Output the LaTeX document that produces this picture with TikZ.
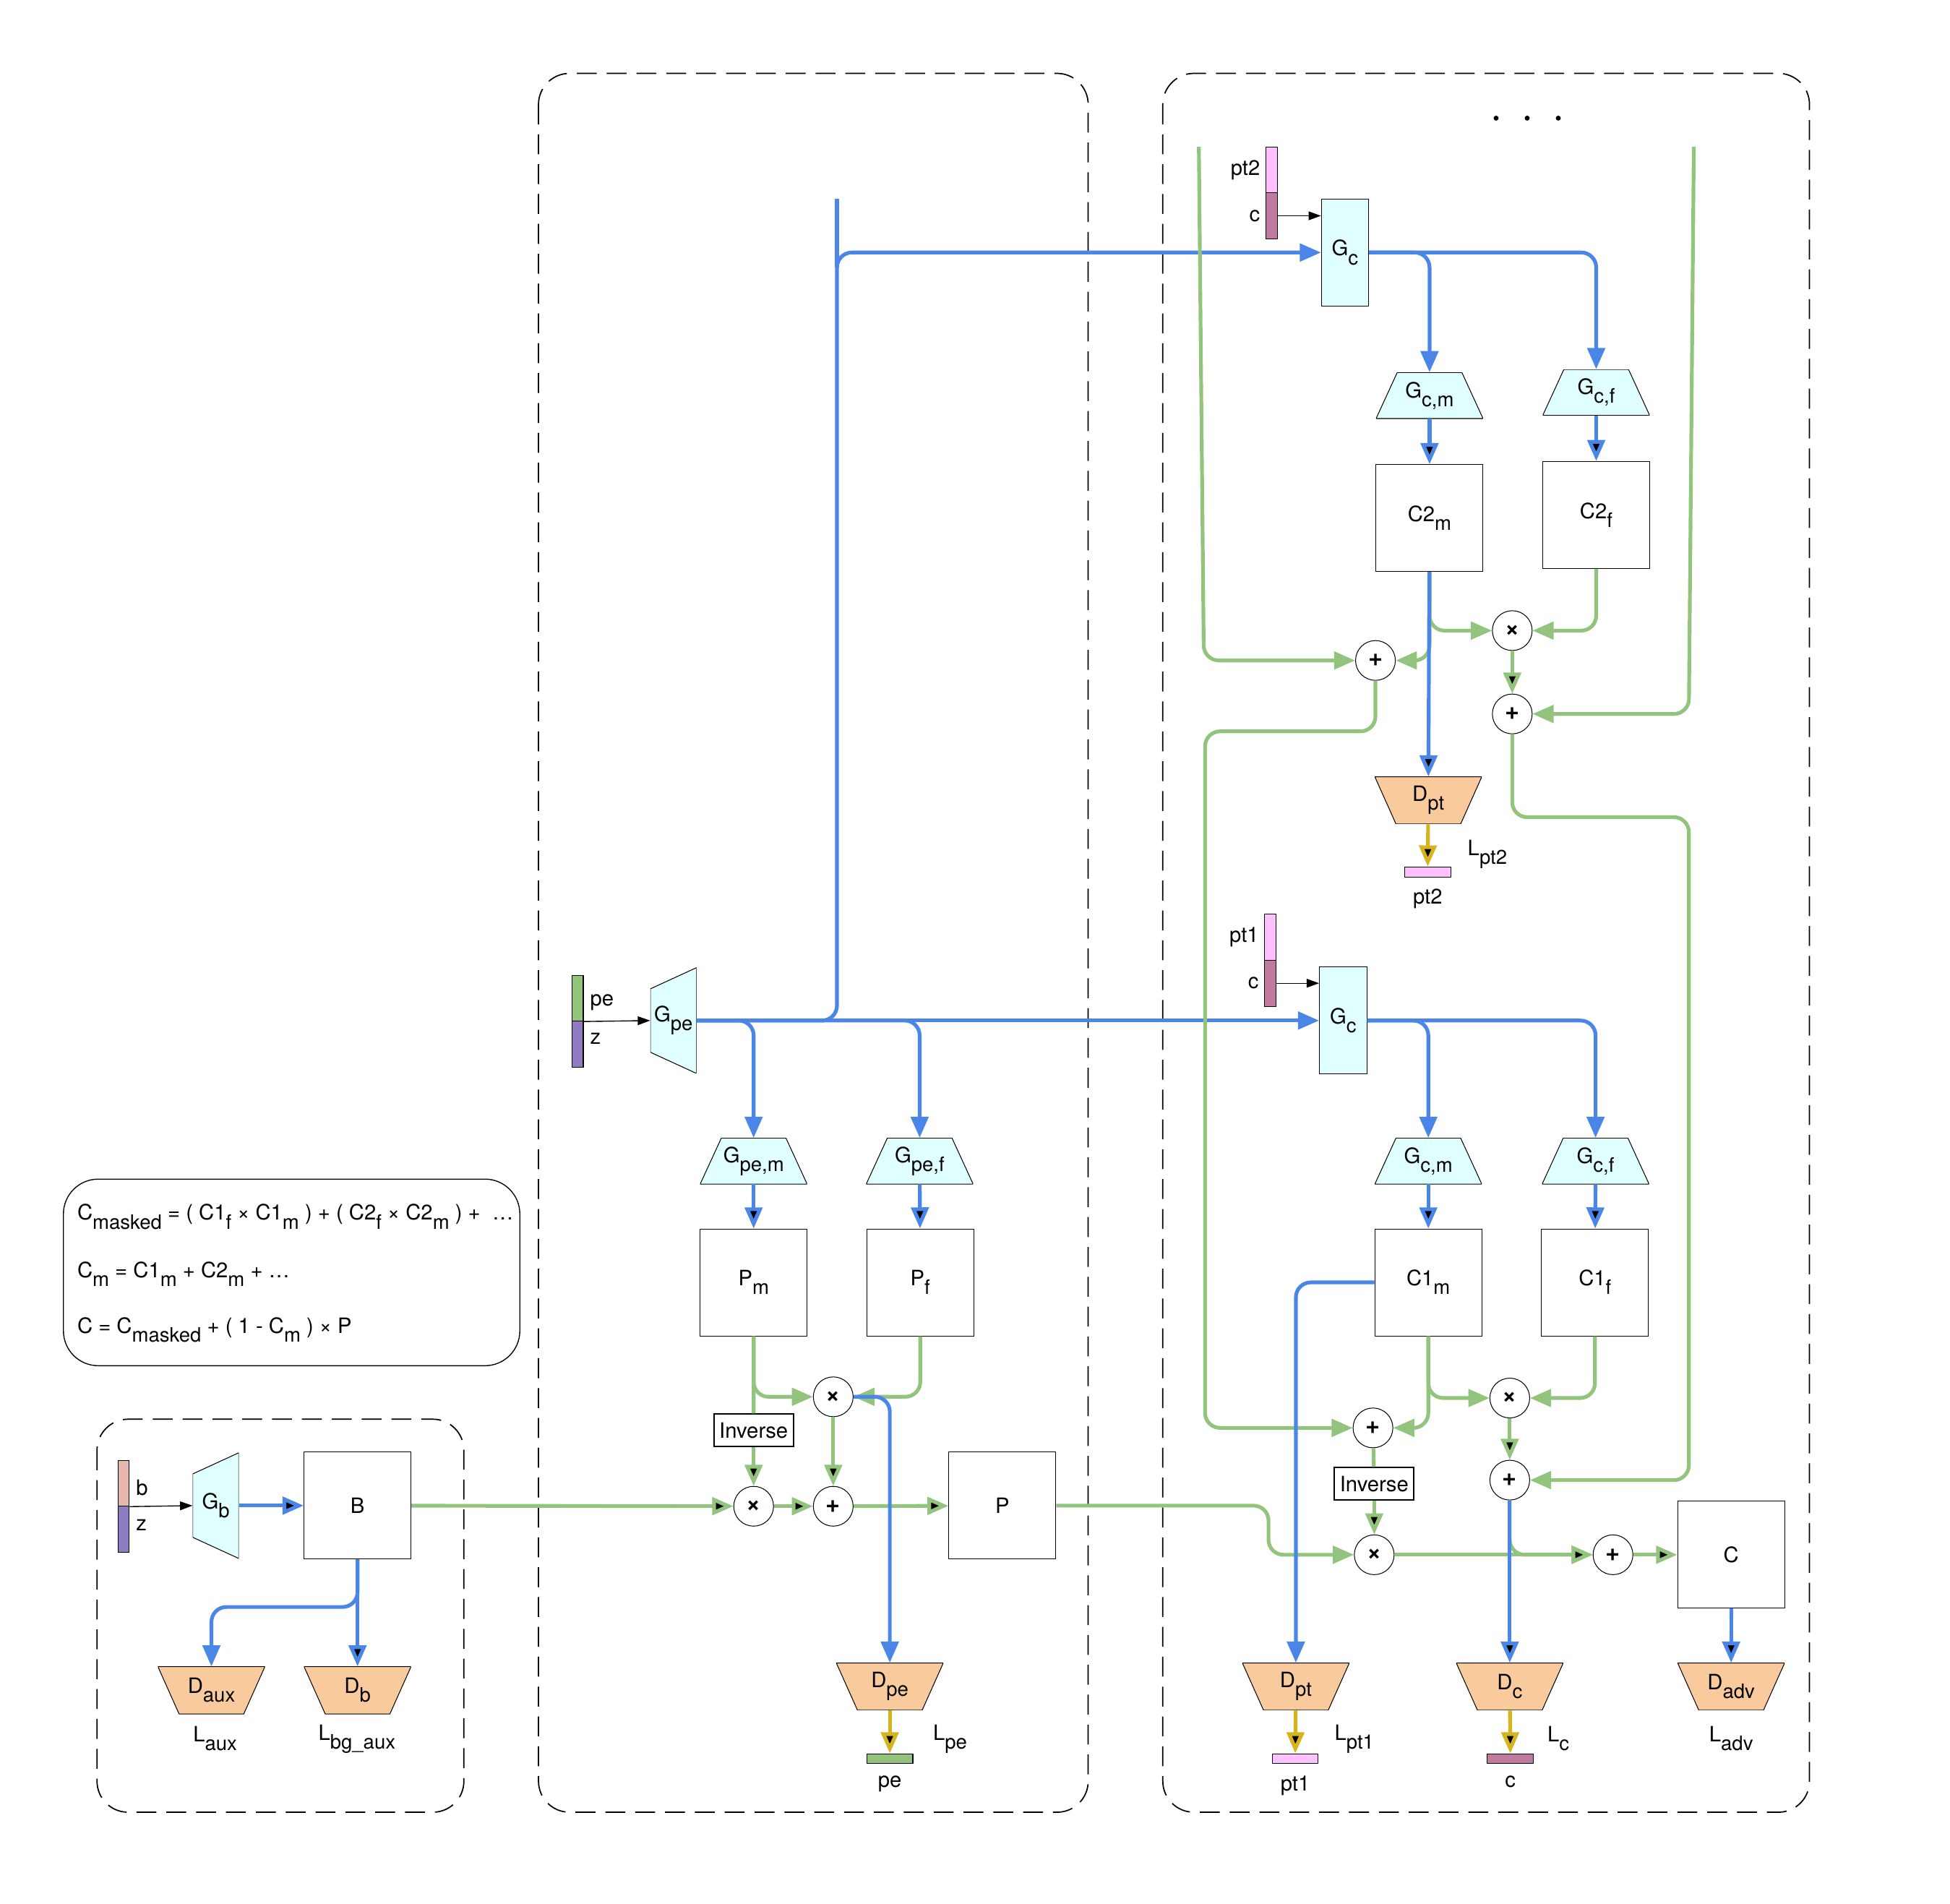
\documentclass[tikz,border=0pt]{standalone}
\usepackage{fontspec}
\setmainfont{TeX Gyre Heros}
\usetikzlibrary{arrows.meta}
\usetikzlibrary{positioning}

\definecolor{flowblue}{HTML}{4A86E8}
\definecolor{flowgreen}{HTML}{93C47D}
\definecolor{lossyellow}{HTML}{D6B41F}
\definecolor{discorange}{HTML}{F9CB9C}
\definecolor{gencyan}{HTML}{E0FFFF}
\definecolor{ptpink}{HTML}{FFC0FF}
\definecolor{cmauve}{HTML}{C27BA0}
\definecolor{bpink}{HTML}{E6B8AF}
\definecolor{zpurple}{HTML}{8E7CC3}

\newcommand{\lsub}[1]{\raisebox{-7pt}{\fontsize{16}{16}\selectfont #1}}

\begin{document}
\begin{tikzpicture}[x=1pt, y=-1pt, font=\fontsize{17}{19}\selectfont,
        sq/.style={draw, line width=0.6pt, minimum width=86pt, minimum height=86pt, inner sep=0pt},
        gbox/.style={draw, fill=gencyan, line width=0.6pt, minimum width=38pt, minimum height=86pt, inner sep=0pt},
        vec/.style={draw, line width=0.6pt, minimum width=9pt, minimum height=37pt, inner sep=0pt},
        bar/.style={draw, line width=0.6pt, minimum width=37pt, minimum height=8pt, inner sep=0pt},
        op/.style={circle, draw, line width=0.6pt, minimum size=32pt, inner sep=0pt, font=\fontsize{20}{20}\selectfont\bfseries},
        inv/.style={draw, line width=1.1pt, minimum width=64pt, minimum height=26pt, inner sep=0pt},
        gen/.style={minimum width=86pt, minimum height=37pt, inner sep=0pt, path picture={
                \filldraw[fill=gencyan, line width=0.6pt] ([xshift=17pt]path picture bounding box.north west)
                -- ([xshift=-17pt]path picture bounding box.north east) -- (path picture bounding box.south east)
                -- (path picture bounding box.south west) -- cycle;}},
        gside/.style={minimum width=37pt, minimum height=85pt, inner sep=0pt, path picture={
                \filldraw[fill=gencyan, line width=0.6pt] ([yshift=-17pt]path picture bounding box.north west)
                -- (path picture bounding box.north east) -- (path picture bounding box.south east)
                -- ([yshift=17pt]path picture bounding box.south west) -- cycle;}},
        disc/.style={minimum width=86pt, minimum height=38pt, inner sep=0pt, path picture={
                \filldraw[fill=discorange, line width=0.6pt] (path picture bounding box.north west)
                -- (path picture bounding box.north east) -- ([xshift=-17pt]path picture bounding box.south east)
                -- ([xshift=17pt]path picture bounding box.south west) -- cycle;}},
        frame/.style={line width=1pt, dash pattern=on 16pt off 8pt, rounded corners=25pt},
        rc/.style={rounded corners=12pt},
        tip/.style={-{Triangle[length=17pt,width=14pt]}},
        bline/.style={draw=flowblue, line width=3pt},
        bflow/.style={bline, tip},
        gline/.style={draw=flowgreen, line width=3pt},
        gflow/.style={gline, tip},
        yflow/.style={draw=lossyellow, line width=3pt, tip},
        tarr/.style={draw, line width=0.8pt, -{Triangle[length=10pt,width=7pt]}}]
        \useasboundingbox (0,0) rectangle (1568,1530.8);

        % frames
        \draw[frame] (78,1141) rectangle (373,1457);
        \draw[frame] (433,59) rectangle (875,1457);
        \draw[frame] (935,59) rectangle (1455,1457);
        \draw[line width=0.8pt, rounded corners=28pt] (51,948) rectangle (418,1098);

        % formulas
        \node[anchor=base west, inner sep=0pt] (f1) at (62,981) {C\lsub{masked} = ( C1\lsub{f} × C1\lsub{m} ) + ( C2\lsub{f} × C2\lsub{m} ) + \ …};
        \node[anchor=base west, inner sep=0pt] (f2) at (62,1027) {C\lsub{m} = C1\lsub{m} + C2\lsub{m} + …};
        \node[anchor=base west, inner sep=0pt] (f3) at (62,1072) {C = C\lsub{masked} + ( 1 - C\lsub{m} ) × P};

        % background stage
        \node[vec, fill=bpink] (vb) at (99.5,1192.5) {};
        \node[vec, fill=zpurple] (vz) at (99.5,1229.5) {};
        \node[anchor=west] (lb) at (106,1196) {b};
        \node[anchor=west] (lz) at (106,1226) {z};
        \node[gside] (Gb) at (173.5,1210.5) {G\lsub{b}};
        \node[sq] (B) at (287.5,1210.5) {B};
        \node[disc] (Daux) at (170,1359) {D\lsub{aux}};
        \node[disc] (Db) at (287.5,1359) {D\lsub{b}};
        \node (Laux) at (173,1398) {L\lsub{aux}};
        \node (Lbg) at (287,1398) {L\lsub{bg\_aux}};

        % parent stage
        \node[vec, fill=flowgreen] (vpe) at (464.5,802.5) {};
        \node[vec, fill=zpurple] (vz2) at (464.5,839.5) {};
        \node[anchor=west] (lpe) at (471,806) {pe};
        \node[anchor=west] (lz2) at (471,835) {z};
        \node[gside] (Gpe) at (541.5,820.5) {G\lsub{pe}};
        \node[gen] (Gpem) at (606,933.5) {G\lsub{pe,m}};
        \node[gen] (Gpef) at (739.5,933.5) {G\lsub{pe,f}};
        \node[sq] (Pm) at (606,1031) {P\lsub{m}};
        \node[sq] (Pf) at (740,1031) {P\lsub{f}};
        \node[op] (mulA) at (670,1123) {×};
        \node[inv] (inv1) at (606,1150) {Inverse};
        \node[op] (mulB) at (606,1211) {×};
        \node[op] (addA) at (670,1211) {+};
        \node[sq] (P) at (806,1210.5) {P};
        \node[disc] (Dpe) at (715.5,1356) {D\lsub{pe}};
        \node[bar, fill=flowgreen] (pebar) at (715.5,1414) {};
        \node[below=6pt of pebar] (lpebar) {pe};
        \node (Lpe) at (764,1398) {L\lsub{pe}};

        % child stage 1
        \node[vec, fill=ptpink] (vpt1) at (1021.5,753.5) {};
        \node[vec, fill=cmauve] (vc1) at (1021.5,790.5) {};
        \node[left=1pt of vpt1] (lpt1) {pt1};
        \node[left=1pt of vc1] (lc1) {c};
        \node[gbox] (Gc1) at (1080,820.5) {G\lsub{c}};
        \node[gen] (Gcm1) at (1148.5,933.5) {G\lsub{c,m}};
        \node[gen] (Gcf1) at (1283,933.5) {G\lsub{c,f}};
        \node[sq] (C1m) at (1148.5,1031) {C1\lsub{m}};
        \node[sq] (C1f) at (1282.5,1031) {C1\lsub{f}};
        \node[op] (mulC) at (1214,1124) {×};
        \node[op] (addC) at (1104,1148) {+};
        \node[inv] (inv2) at (1105,1193) {Inverse};
        \node[op] (addD) at (1214,1190) {+};
        \node[op] (mulD) at (1105,1250) {×};
        \node[op] (addE) at (1297,1250) {+};
        \node[sq] (C) at (1392,1250) {C};
        \node[disc] (Dpt1) at (1042,1356) {D\lsub{pt}};
        \node[disc] (Dc) at (1214,1356) {D\lsub{c}};
        \node[disc] (Dadv) at (1392,1356) {D\lsub{adv}};
        \node[bar, fill=ptpink] (pt1bar) at (1041.5,1414) {};
        \node[bar, fill=cmauve] (cbar) at (1214.5,1414) {};
        \node[below=6pt of pt1bar] (lpt1bar) {pt1};
        \node[below=6pt of cbar] (lcbar) {c};
        \node (Lpt1) at (1089,1398) {L\lsub{pt1}};
        \node (Lc) at (1253,1398) {L\lsub{c}};
        \node (Ladv) at (1392,1398) {L\lsub{adv}};

        % child stage 2
        \foreach \x in {1203,1228,1253} \fill (\x,95) circle (2pt);
        \node[vec, fill=ptpink] (vpt2) at (1022.5,136.5) {};
        \node[vec, fill=cmauve] (vc2) at (1022.5,173.5) {};
        \node[left=1pt of vpt2] (lpt2) {pt2};
        \node[left=1pt of vc2] (lc2) {c};
        \node[gbox] (Gc2) at (1081.5,203) {G\lsub{c}};
        \node[gen] (Gcm2) at (1149.5,318) {G\lsub{c,m}};
        \node[gen] (Gcf2) at (1283.5,315.5) {G\lsub{c,f}};
        \node[sq] (C2m) at (1149.5,416.5) {C2\lsub{m}};
        \node[sq] (C2f) at (1283.5,414) {C2\lsub{f}};
        \node[op] (mulE) at (1216,507) {×};
        \node[op] (addF) at (1106,531) {+};
        \node[op] (addG) at (1216,574) {+};
        \node[disc] (Dpt2) at (1148.5,643.5) {D\lsub{pt}};
        \node[bar, fill=ptpink] (pt2bar) at (1148,701) {};
        \node[below=6pt of pt2bar] (lpt2bar) {pt2};
        \node (Lpt2) at (1196,687) {L\lsub{pt2}};

        \coordinate (btop) at (673,160);
        \coordinate (gtopL) at (964,118);
        \coordinate (gtopR) at (1362,118);

        % feature paths
        \draw[bline] (btop) -- (673,215);
        \draw[bflow] (Gpe) [rc] -- (673,820.5) -- (673,203) -- (Gc2) [sharp corners];
        \draw[bflow] (Gpe) -- (Gc1);

        % masks and images
        \draw[gflow] (gtopL) [rc] -- (968,531) -- (addF) [sharp corners];
        \draw[gflow] (gtopR) [rc] -- (1358,574) -- (addG) [sharp corners];
        \draw[gflow] (addF) [rc] -- (1106,588) -- (969,588) -- (969,1148) -- (addC) [sharp corners];
        \draw[gflow] (addG) [rc] -- (1216,657) -- (1358,657) -- (1358,1190) -- (addD) [sharp corners];
        \draw[gflow] (C2m) [rc] -- (1149.5,507) -- (mulE) [sharp corners];
        \draw[gflow] (C2m) [rc] -- (1149.5,531) -- (addF) [sharp corners];
        \draw[gflow] (C2f) [rc] -- (1283.5,507) -- (mulE) [sharp corners];
        \draw[gflow] (C1m) [rc] -- (1148.5,1124) -- (mulC) [sharp corners];
        \draw[gflow] (C1m) [rc] -- (1148.5,1148) -- (addC) [sharp corners];
        \draw[gflow] (C1f) [rc] -- (1282.5,1124) -- (mulC) [sharp corners];
        \draw[gflow] (P) [rc] -- (1020,1210.5) -- (1020,1250) -- (mulD) [sharp corners];
        \draw[gflow] (addD) [rc] -- (1214,1250) -- (addE) [sharp corners];
        \draw[gflow] (Pm) [rc] -- (606,1123) -- (mulA) [sharp corners];
        \draw[gflow] (Pf) [rc] -- (740,1123) -- (mulA) [sharp corners];
        \draw[gline] (Pm) -- (inv1) (addC) -- (inv2);
        \draw[gflow]
        (mulE) edge (addG)
        (mulC) edge (addD)
        (inv2) edge (mulD)
        (mulD) edge (addE)
        (addE) edge (C)
        (B) edge (mulB)
        (inv1) edge (mulB)
        (mulA) edge (addA)
        (mulB) edge (addA)
        (addA) edge (P);

        % generators and discriminators
        \draw[bflow] (Gpe) [rc] -- (606,820.5) -- (Gpem) [sharp corners];
        \draw[bflow] (Gpe) [rc] -- (739.5,820.5) -- (Gpef) [sharp corners];
        \draw[bflow] (Gc2) [rc] -- (1149.5,203) -- (Gcm2) [sharp corners];
        \draw[bflow] (Gc2) [rc] -- (1283.5,203) -- (Gcf2) [sharp corners];
        \draw[bflow] (Gc1) [rc] -- (1148.5,820.5) -- (Gcm1) [sharp corners];
        \draw[bflow] (Gc1) [rc] -- (1283,820.5) -- (Gcf1) [sharp corners];
        \draw[bflow] (mulA) [rc] -- (715.5,1123) -- (Dpe) [sharp corners];
        \draw[bflow] (C1m) [rc] -- (1042,1031) -- (Dpt1) [sharp corners];
        \draw[bflow] (B) [rc] -- (287.5,1292) -- (170,1292) -- (Daux) [sharp corners];
        \draw[bflow]
        (Gpem) edge (Pm)
        (Gpef) edge (Pf)
        (Gcm2) edge (C2m)
        (Gcf2) edge (C2f)
        (Gcm1) edge (C1m)
        (Gcf1) edge (C1f)
        (C2m) edge (Dpt2)
        (addD) edge (Dc)
        (C) edge (Dadv)
        (Gb) edge (B)
        (B) edge (Db);

        % losses
        \draw[yflow]
        (Dpe) edge (pebar)
        (Dpt1) edge (pt1bar)
        (Dc) edge (cbar)
        (Dpt2) edge (pt2bar);

        % inputs
        \draw[tarr] (vb.south east) -- (Gb.west);
        \draw[tarr] (vpe.south east) -- (Gpe.west);
        \draw[tarr] (vc1.east) -- (vc1.east -| Gc1.west);
        \draw[tarr] (vc2.east) -- (vc2.east -| Gc2.west);
      \end{tikzpicture}
\end{document}
